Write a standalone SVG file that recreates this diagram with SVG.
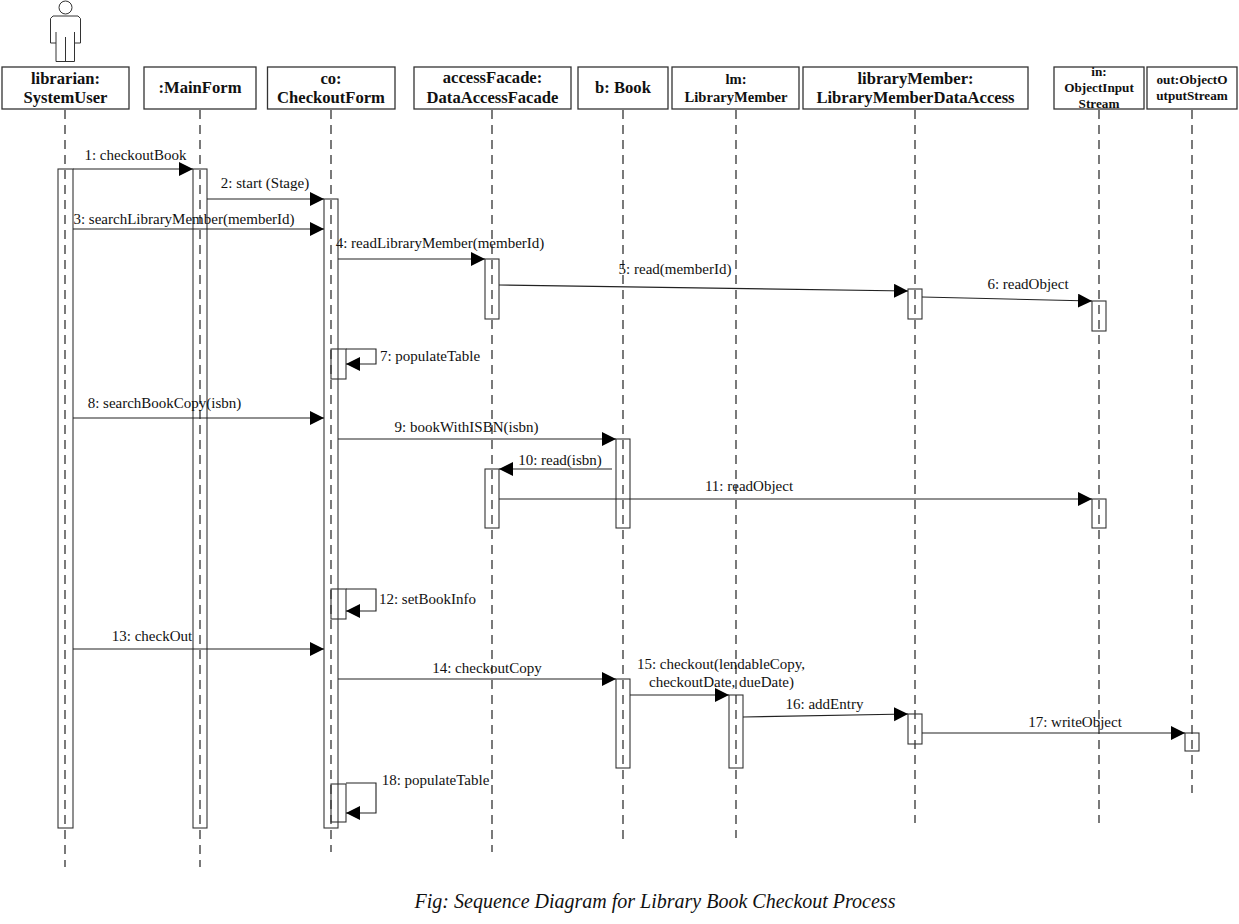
<svg xmlns="http://www.w3.org/2000/svg" width="1239" height="924" viewBox="0 0 1239 924">
<style>
text{font-family:"Liberation Serif","Times New Roman",serif;fill:#111}
.h{font-size:16.6px;font-weight:bold;text-anchor:middle}
.s{font-size:13.200px;font-weight:bold;text-anchor:middle}
.l{font-size:14.600px;font-weight:bold;text-anchor:middle}
.m{font-size:15px;text-anchor:middle}
.box{fill:#fff;stroke:#333;stroke-width:1.3}
.life{stroke:#222;stroke-width:1.2;stroke-dasharray:9 6;fill:none}
.act{fill:#fff;fill-opacity:.01;stroke:#333;stroke-width:1.1}
.msg{stroke:#222;stroke-width:1.1;fill:none;marker-end:url(#a)}
.actor{fill:none;stroke:#333;stroke-width:1}
</style>
<defs><marker id="a" markerUnits="userSpaceOnUse" markerWidth="15" markerHeight="15" refX="14" refY="7" orient="auto"><path d="M0 0L14 7L0 14Z" fill="#000"/></marker></defs>
<rect width="1239" height="924" fill="#fff"/>
<g id="actor-figure" class="actor"><circle cx="65.500" cy="7.500" r="6.500"/><path d="M53 16H78L80.500 18.500V43H74.500V61.500H56V43H50.500V18.500ZM56 32V43M74.500 32V43M65.500 37V61.500"/></g>
<g id="librarian"><rect class="box" x="2" y="67" width="127" height="42"/><text class="h" x="65.500" y="84">librarian:</text><text class="h" x="65.500" y="103">SystemUser</text><path class="life" d="M65 110V867"/><rect class="act" x="58" y="169" width="15" height="659"/></g>
<g id="mainform"><rect class="box" x="144" y="67" width="112" height="42"/><text class="h" x="200" y="93">:MainForm</text><path class="life" d="M200 110V867"/><rect class="act" x="193" y="169" width="14" height="659"/></g>
<g id="checkoutform"><rect class="box" x="267.500" y="67" width="127.500" height="42"/><text class="h" x="331" y="84">co:</text><text class="h" x="331" y="103">CheckoutForm</text><path class="life" d="M331 110V852"/><rect class="act" x="324" y="199" width="14" height="629"/><rect class="act" x="331" y="349" width="15" height="30"/><rect class="act" x="331" y="589" width="15" height="30"/><rect class="act" x="331" y="784" width="15" height="38"/></g>
<g id="accessfacade"><rect class="box" x="414" y="67" width="157" height="42"/><text class="h" x="492.500" y="83">accessFacade:</text><text class="h" x="492.500" y="103">DataAccessFacade</text><path class="life" d="M492 110V852"/><rect class="act" x="485" y="259" width="14" height="60"/><rect class="act" x="485" y="469" width="14" height="59"/></g>
<g id="book"><rect class="box" x="578" y="67" width="90" height="42"/><text class="h" x="623" y="93">b: Book</text><path class="life" d="M623 110V845"/><rect class="act" x="616" y="439" width="14" height="89"/><rect class="act" x="616" y="679" width="14" height="89"/></g>
<g id="librarymember-lm"><rect class="box" x="672" y="67" width="127" height="42"/><text class="l" x="736" y="84">lm:</text><text class="l" x="736" y="102">LibraryMember</text><path class="life" d="M736 110V838"/><rect class="act" x="729" y="695" width="14" height="73"/></g>
<g id="librarymember-da"><rect class="box" x="803" y="67" width="225" height="42"/><text class="h" x="915.500" y="84">libraryMember:</text><text class="h" x="915.500" y="103">LibraryMemberDataAccess</text><path class="life" d="M915 110V823"/><rect class="act" x="908" y="289" width="14" height="30"/><rect class="act" x="908" y="714" width="14" height="30"/></g>
<g id="objectinputstream"><rect class="box" x="1054" y="67" width="90" height="42"/><text class="s" x="1099" y="76">in:</text><text class="s" x="1099" y="92">ObjectInput</text><text class="s" x="1099" y="108">Stream</text><path class="life" d="M1099 110V823"/><rect class="act" x="1092" y="301" width="14" height="30"/><rect class="act" x="1092" y="499" width="14" height="29"/></g>
<g id="objectoutputstream"><rect class="box" x="1147" y="67" width="90" height="42"/><text class="s" x="1192" y="84">out:ObjectO</text><text class="s" x="1192" y="100">utputStream</text><path class="life" d="M1192 110V793"/><rect class="act" x="1185" y="733" width="14" height="18"/></g>
<g id="connectors">
<path class="msg" d="M73 169H193"/><path class="msg" d="M207 199H324"/><path class="msg" d="M73 229H324"/><path class="msg" d="M338 259H485"/><path class="msg" d="M499 285L908 291"/><path class="msg" d="M922 297L1092 301"/>
<path class="msg" d="M346 349H376V364H346"/><path class="msg" d="M73 418H324"/><path class="msg" d="M338 439H616"/><path class="msg" d="M612 469H499"/><path class="msg" d="M499 499H1092"/>
<path class="msg" d="M346 589H376V611H346"/><path class="msg" d="M73 649H324"/><path class="msg" d="M338 679H616"/><path class="msg" d="M630 695H729"/><path class="msg" d="M743 717L908 714"/><path class="msg" d="M922 733H1185"/><path class="msg" d="M346 783H376V813H346"/>
</g>
<g id="labels">
<text class="m" x="135.500" y="160">1: checkoutBook</text><text class="m" x="265" y="188">2: start (Stage)</text><text class="m" x="184" y="224">3: searchLibraryMember(memberId)</text><text class="m" x="440" y="248">4: readLibraryMember(memberId)</text><text class="m" x="675" y="274">5: read(memberId)</text><text class="m" x="1028" y="289">6: readObject</text>
<text class="m" x="430" y="361">7: populateTable</text><text class="m" x="164.500" y="408">8: searchBookCopy(isbn)</text><text class="m" x="466.500" y="432">9: bookWithISBN(isbn)</text><text class="m" x="560" y="465">10: read(isbn)</text><text class="m" x="749" y="491">11: readObject</text>
<text class="m" x="427.500" y="604">12: setBookInfo</text><text class="m" x="152" y="641">13: checkOut</text><text class="m" x="487" y="673">14: checkoutCopy</text><text class="m" x="721" y="669">15: checkout(lendableCopy,</text><text class="m" x="721.500" y="687">checkoutDate, dueDate)</text><text class="m" x="824.500" y="709">16: addEntry</text><text class="m" x="1075" y="727">17: writeObject</text><text class="m" x="435.500" y="785">18: populateTable</text>
<text x="655" y="908" text-anchor="middle" font-size="20px" font-style="italic">Fig: Sequence Diagram for Library Book Checkout Process</text>
</g>
</svg>
